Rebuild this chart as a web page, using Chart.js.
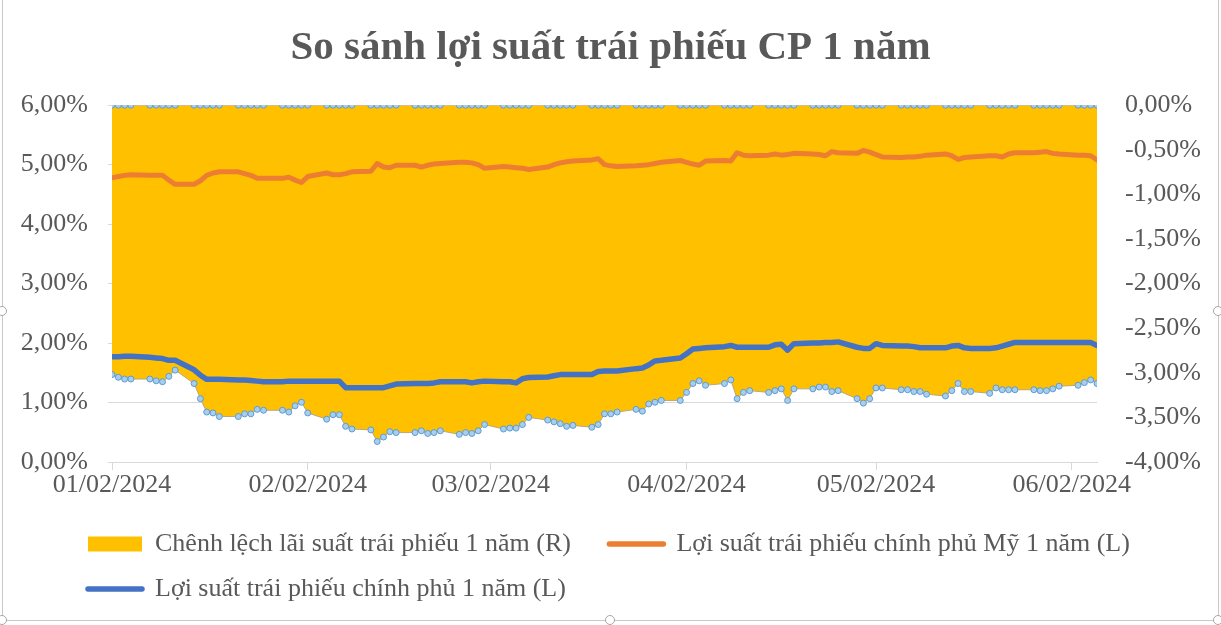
<!DOCTYPE html>
<html>
<head>
<meta charset="utf-8">
<script src="https://cdn.jsdelivr.net/npm/chart.js@4.4.1/dist/chart.umd.min.js"></script>
<style>
html, body { margin: 0; padding: 0; background: #fff; }
#wrap { position: relative; width: 1221px; height: 625px; overflow: hidden; }
#frame { position: absolute; left: 2px; top: -2px; width: 1215px; height: 621px; border: 1px solid #c8c8c8; }
canvas { position: absolute; left: 0; top: 0; }
.h { position: absolute; width: 8px; height: 8px; border: 1px solid #a6a6a6; border-radius: 50%; background: #fff; }
</style>
</head>
<body>
<div id="wrap">
  <div id="frame"></div>
  <canvas id="chart" width="1221" height="625"></canvas>
  <div class="h" style="left:-3px;top:306px"></div>
  <div class="h" style="left:1213px;top:306px"></div>
  <div class="h" style="left:-3px;top:615px"></div>
  <div class="h" style="left:605px;top:615px"></div>
  <div class="h" style="left:1213px;top:615px"></div>
</div>
<script>
// trading days, one row per week
const dates = [
  '2024-01-02','2024-01-03','2024-01-04','2024-01-05',
  '2024-01-08','2024-01-09','2024-01-10','2024-01-11','2024-01-12',
  '2024-01-15','2024-01-16','2024-01-17','2024-01-18','2024-01-19',
  '2024-01-22','2024-01-23','2024-01-24','2024-01-25','2024-01-26',
  '2024-01-29','2024-01-30','2024-01-31','2024-02-01','2024-02-02',
  '2024-02-05','2024-02-06','2024-02-07','2024-02-08','2024-02-09',
  '2024-02-12','2024-02-13','2024-02-14','2024-02-15','2024-02-16',
  '2024-02-19','2024-02-20','2024-02-21','2024-02-22','2024-02-23',
  '2024-02-26','2024-02-27','2024-02-28','2024-02-29','2024-03-01',
  '2024-03-04','2024-03-05','2024-03-06','2024-03-07','2024-03-08',
  '2024-03-11','2024-03-12','2024-03-13','2024-03-14','2024-03-15',
  '2024-03-18','2024-03-19','2024-03-20','2024-03-21','2024-03-22',
  '2024-03-25','2024-03-26','2024-03-27','2024-03-28','2024-03-29',
  '2024-04-01','2024-04-02','2024-04-03','2024-04-04','2024-04-05',
  '2024-04-08','2024-04-09','2024-04-10','2024-04-11','2024-04-12',
  '2024-04-15','2024-04-16','2024-04-17','2024-04-18','2024-04-19',
  '2024-04-22','2024-04-23','2024-04-24','2024-04-25','2024-04-26',
  '2024-04-29','2024-04-30','2024-05-01','2024-05-02','2024-05-03',
  '2024-05-06','2024-05-07','2024-05-08','2024-05-09','2024-05-10',
  '2024-05-13','2024-05-14','2024-05-15','2024-05-16','2024-05-17',
  '2024-05-20','2024-05-21','2024-05-22','2024-05-23','2024-05-24',
  '2024-05-27','2024-05-28','2024-05-29','2024-05-30','2024-05-31',
  '2024-06-03','2024-06-04','2024-06-05','2024-06-06'
];

// spread (R axis, %)
const spread = [
  -3.02, -3.05, -3.07, -3.07,
  -3.07, -3.09, -3.10, -3.04, -2.97,
  -3.12, -3.29, -3.44, -3.45, -3.49,
  -3.49, -3.46, -3.46, -3.41, -3.42,
  -3.42, -3.44, -3.37, -3.33, -3.45,
  -3.52, -3.47, -3.47, -3.60, -3.63,
  -3.64, -3.77, -3.72, -3.66, -3.67,
  -3.67, -3.65, -3.68, -3.67, -3.65,
  -3.69, -3.67, -3.68, -3.65, -3.58,
  -3.63, -3.62, -3.62, -3.58, -3.50,
  -3.53, -3.55, -3.57, -3.60, -3.59,
  -3.61, -3.58, -3.46, -3.46, -3.44,
  -3.41, -3.43, -3.35, -3.33, -3.31,
  -3.31, -3.22, -3.12, -3.09, -3.14,
  -3.12, -3.08, -3.29, -3.22, -3.20,
  -3.22, -3.20, -3.18, -3.31, -3.18,
  -3.18, -3.16, -3.16, -3.21, -3.20,
  -3.29, -3.34, -3.29, -3.17, -3.17,
  -3.19, -3.19, -3.21, -3.21, -3.24,
  -3.26, -3.20, -3.12, -3.21, -3.21,
  -3.23, -3.17, -3.19, -3.19, -3.19,
  -3.19, -3.20, -3.20, -3.18, -3.15,
  -3.14, -3.11, -3.08, -3.12
];

// zero line of the spread area (top edge markers)
const spreadTop = [
  0, 0, 0, 0,
  0, 0, 0, 0, 0,  0, 0, 0, 0, 0,  0, 0, 0, 0, 0,  0, 0, 0, 0, 0,
  0, 0, 0, 0, 0,  0, 0, 0, 0, 0,  0, 0, 0, 0, 0,  0, 0, 0, 0, 0,
  0, 0, 0, 0, 0,  0, 0, 0, 0, 0,  0, 0, 0, 0, 0,  0, 0, 0, 0, 0,
  0, 0, 0, 0, 0,  0, 0, 0, 0, 0,  0, 0, 0, 0, 0,  0, 0, 0, 0, 0,
  0, 0, 0, 0, 0,  0, 0, 0, 0, 0,  0, 0, 0, 0, 0,  0, 0, 0, 0, 0,
  0, 0, 0, 0, 0,
  0, 0, 0, 0
];

// US 1Y yield (L axis, %)
const usYield = [
  4.78, 4.80, 4.82, 4.83,
  4.82, 4.82, 4.82, 4.74, 4.67,
  4.67, 4.73, 4.82, 4.86, 4.88,
  4.88, 4.85, 4.82, 4.77, 4.77,
  4.77, 4.79, 4.74, 4.70, 4.80,
  4.86, 4.83, 4.83, 4.85, 4.88,
  4.89, 5.02, 4.96, 4.95, 4.99,
  4.99, 4.96, 4.99, 5.01, 5.02,
  5.04, 5.04, 5.03, 5.00, 4.94,
  4.97, 4.96, 4.95, 4.94, 4.92,
  4.96, 5.00, 5.03, 5.05, 5.06,
  5.08, 5.10, 5.00, 4.98, 4.97,
  4.98, 4.99, 5.00, 5.02, 5.04,
  5.07, 5.04, 5.01, 4.99, 5.06,
  5.07, 5.06, 5.20, 5.16, 5.15,
  5.16, 5.18, 5.16, 5.17, 5.19,
  5.18, 5.17, 5.15, 5.22, 5.20,
  5.19, 5.24, 5.21, 5.17, 5.13,
  5.12, 5.13, 5.13, 5.14, 5.16,
  5.18, 5.15, 5.09, 5.12, 5.13,
  5.15, 5.15, 5.13, 5.18, 5.20,
  5.20, 5.21, 5.22, 5.19, 5.18,
  5.16, 5.16, 5.15, 5.08
];

// VN 1Y government bond yield (L axis, %)
const vnYield = [
  1.77, 1.77, 1.78, 1.78,
  1.76, 1.75, 1.74, 1.71, 1.71,
  1.55, 1.46, 1.39, 1.39, 1.39,
  1.38, 1.38, 1.37, 1.36, 1.35,
  1.35, 1.36, 1.36, 1.36, 1.36,
  1.36, 1.36, 1.36, 1.25, 1.25,
  1.25, 1.25, 1.25, 1.28, 1.31,
  1.32, 1.32, 1.32, 1.33, 1.35,
  1.35, 1.35, 1.33, 1.35, 1.36,
  1.35, 1.35, 1.33, 1.40, 1.42,
  1.43, 1.45, 1.47, 1.47, 1.47,
  1.47, 1.52, 1.53, 1.53, 1.53,
  1.57, 1.58, 1.63, 1.70, 1.71,
  1.75, 1.82, 1.90, 1.91, 1.92,
  1.94, 1.96, 1.93, 1.93, 1.93,
  1.93, 1.97, 1.98, 1.88, 1.99,
  2.00, 2.00, 2.01, 2.01, 2.02,
  1.93, 1.91, 1.91, 1.99, 1.96,
  1.95, 1.95, 1.94, 1.92, 1.92,
  1.92, 1.95, 1.96, 1.92, 1.91,
  1.91, 1.92, 1.95, 1.98, 2.01,
  2.01, 2.01, 2.01, 2.01, 2.01,
  2.01, 2.01, 2.01, 1.96
];

const tickLabels = ['01/02/2024', '02/02/2024', '03/02/2024', '04/02/2024', '05/02/2024', '06/02/2024'];
const seriesNames = [
  'Chênh lệch lãi suất trái phiếu 1 năm (R)',
  'Lợi suất trái phiếu chính phủ Mỹ 1 năm (L)',
  'Lợi suất trái phiếu chính phủ 1 năm (L)'
];
const titleText = 'So sánh lợi suất trái phiếu CP 1 năm';

const colorArea = '#FFC000';
const colorUS = '#ED7D31';
const colorVN = '#4472C4';
const colorText = '#595959';
const colorGrid = '#D9D9D9';
const serif = "'Liberation Serif', 'Times New Roman', serif";

// x axis = days since first date
const day0 = Date.parse(dates[0]);
const toDay = ms => Math.round((ms - day0) / 864e5);
const xDays = dates.map(d => toDay(Date.parse(d)));
const tickDays = tickLabels.map(s => {
  const [m, d, y] = s.split('/').map(Number);
  return toDay(Date.UTC(y, m - 1, d));
});
const pts = arr => arr.map((v, i) => ({x: xDays[i], y: v}));
const pct = v => v.toFixed(2).replace('.', ',') + '%';

const markerStyle = {
  pointRadius: 3,
  pointBackgroundColor: '#A9CEEC',
  pointBorderColor: '#5B9BD5',
  pointBorderWidth: 1
};

// Move the legend rows so they start under the left axis labels
const legendShift = {
  id: 'legendShift',
  afterLayout(chart) {
    chart.legend.left += 49;
    chart.legend.right += 49;
  }
};

const chartData = {
  type: 'line',
  data: {
    datasets: [
      Object.assign({
        label: seriesNames[0],
        data: pts(spread),
        yAxisID: 'y1',
        fill: 'origin',
        backgroundColor: colorArea,
        borderColor: '#B9A77E',
        borderWidth: 1,
        order: 3
      }, markerStyle),
      Object.assign({
        label: 'top',
        data: pts(spreadTop),
        yAxisID: 'y1',
        fill: false,
        borderColor: '#BDB39A',
        borderWidth: 1,
        order: 2
      }, markerStyle),
      {
        label: seriesNames[1],
        data: pts(usYield),
        yAxisID: 'y',
        fill: false,
        borderColor: colorUS,
        borderWidth: 5,
        borderJoinStyle: 'round',
        borderCapStyle: 'round',
        pointRadius: 0,
        order: 1
      },
      {
        label: seriesNames[2],
        data: pts(vnYield),
        yAxisID: 'y',
        fill: false,
        borderColor: colorVN,
        borderWidth: 5.5,
        borderJoinStyle: 'round',
        borderCapStyle: 'round',
        pointRadius: 0,
        order: 0
      }
    ]
  },
  options: {
    responsive: false,
    animation: false,
    layout: { padding: { top: 0, left: 20, right: 20, bottom: 13 } },
    plugins: {
      tooltip: { enabled: false },
      title: {
        display: true,
        text: titleText,
        color: colorText,
        font: { family: serif, size: 41, weight: 'bold' },
        padding: { top: 24, bottom: 32 }
      },
      legend: {
        position: 'bottom',
        align: 'start',
        labels: {
          color: colorText,
          font: { family: serif, size: 26 },
          padding: 19,
          boxHeight: 15,
          usePointStyle: true,
          pointStyleWidth: 54,
          generateLabels: () => [
            { text: seriesNames[0] + '   ', fillStyle: colorArea, strokeStyle: colorArea, lineWidth: 0, pointStyle: 'rect', datasetIndex: 0, fontColor: colorText },
            { text: seriesNames[1], fillStyle: colorUS, strokeStyle: colorUS, lineWidth: 5.5, lineCap: 'round', pointStyle: 'line', datasetIndex: 2, fontColor: colorText },
            { text: seriesNames[2], fillStyle: colorVN, strokeStyle: colorVN, lineWidth: 5.5, lineCap: 'round', pointStyle: 'line', datasetIndex: 3, fontColor: colorText }
          ]
        }
      }
    },
    scales: {
      x: {
        type: 'linear',
        min: xDays[0],
        max: xDays[xDays.length - 1],
        afterBuildTicks: s => { s.ticks = tickDays.map(v => ({value: v})); },
        afterFit: s => { s.height = 50; },
        ticks: {
          autoSkip: false,
          maxRotation: 0,
          padding: 0,
          color: colorText,
          font: { family: serif, size: 26 },
          callback: v => tickLabels[tickDays.indexOf(v)]
        },
        grid: { drawOnChartArea: false, drawTicks: true, tickLength: 8, color: colorGrid },
        border: { color: colorGrid, width: 1 }
      },
      y: {
        position: 'left',
        min: 0,
        max: 6,
        afterFit: s => { s.width = 92; },
        ticks: {
          stepSize: 1,
          padding: 20,
          color: colorText,
          font: { family: serif, size: 26 },
          callback: v => pct(v)
        },
        grid: { color: colorGrid, tickLength: 4 },
        border: { display: false }
      },
      y1: {
        position: 'right',
        min: -4,
        max: 0,
        afterFit: s => { s.width = 104; },
        ticks: {
          stepSize: 0.5,
          padding: 20,
          color: colorText,
          font: { family: serif, size: 26 },
          callback: v => pct(v)
        },
        grid: { display: false },
        border: { display: false }
      }
    }
  },
  plugins: [legendShift]
};

const yieldChart = new Chart(document.getElementById('chart'), chartData);
</script>
</body>
</html>
